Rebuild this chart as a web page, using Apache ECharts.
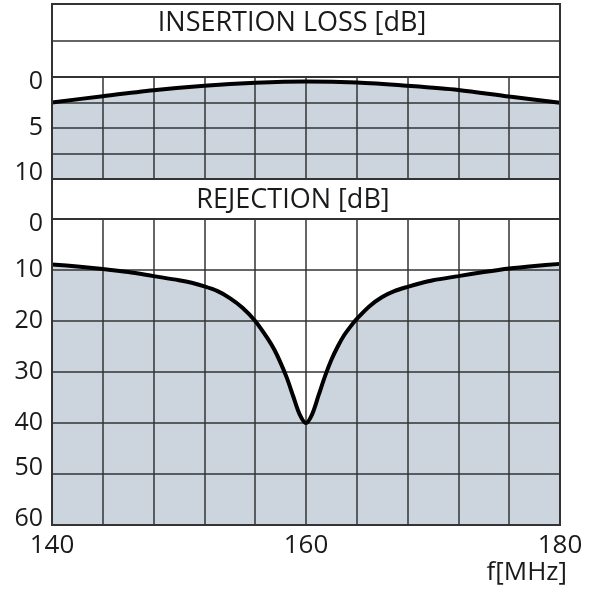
<!DOCTYPE html>
<html>
<head>
<meta charset="utf-8">
<script src="https://cdn.jsdelivr.net/npm/echarts@6/dist/echarts.min.js"></script>
<style>
  html, body { margin: 0; padding: 0; background: #fff; }
  #chart { width: 600px; height: 589px; }
</style>
</head>
<body>
<div id="chart"></div>
<script>
// frequency axis
const freqMin = 140;
const freqMax = 180;
const freqLabels = [140, 160, 180];

// insertion loss [dB]
const ilFreq = [140, 144, 148, 152, 156, 160, 164, 168, 172, 176, 180];
const ilLoss = [2.5, 1.88, 1.3, 0.86, 0.57, 0.44, 0.54, 0.86, 1.27, 1.92, 2.52];
const ilTicks = [0, 5, 10];

// rejection [dB]
const rejFreq = [140, 142, 144, 146, 148, 150, 151, 152, 153, 154, 155, 156, 157, 157.5, 158, 158.5, 159, 159.5,
    160, 160.5, 161, 161.5, 162, 162.5, 163, 163.5, 164, 165, 166, 167, 168, 169, 170, 172, 174, 176, 178, 180];
const rejLoss = [8.9, 9.3, 9.8, 10.4, 11.2, 12.0, 12.5, 13.2, 14.1, 15.5, 17.4, 20.0, 23.5, 25.6, 28.2, 31.2, 34.8, 38.3,
    40.0, 38.2, 34.5, 30.8, 27.6, 25.0, 22.8, 21.1, 19.6, 17.1, 15.3, 14.1, 13.3, 12.6, 12.0, 11.2, 10.4, 9.7, 9.2, 8.8];
const rejTicks = [0, 10, 20, 30, 40, 50, 60];

const FONT = '"Open Sans", sans-serif';
const INK = '#1a1a1a';
const GRIDC = '#333';
const FILL = '#ccd5de';

// frame geometry
const L = 52, R = 560, T = 4;
const IL_TOP = 77, IL_BOT = 179;
const REJ_TOP = 219, REJ_BOT = 525;

const chart = echarts.init(document.getElementById('chart'));

function xAxisFor(gridIndex, showLabels) {
    return {
        type: 'value', gridIndex, min: freqMin, max: freqMax, interval: 4,
        axisLine: { show: false }, axisTick: { show: false },
        splitLine: { show: true, lineStyle: { color: GRIDC, width: 1.5 } },
        axisLabel: {
            show: showLabels, margin: 8, fontFamily: FONT, fontSize: 26, color: INK,
            formatter: v => freqLabels.includes(v) ? String(v) : ''
        }
    };
}

function yAxisFor(gridIndex, max, interval, ticks, shift) {
    return {
        type: 'value', gridIndex, inverse: true, min: 0, max, interval,
        axisLine: { show: false }, axisTick: { show: false },
        splitLine: { show: true, lineStyle: { color: GRIDC, width: 1.5 } },
        axisLabel: {
            margin: 9, fontFamily: FONT, fontSize: 25, color: INK,
            formatter: v => {
                if (!ticks.includes(v)) return '';
                const s = shift[v];
                if (s > 0) return '{dn|' + v + '}';
                if (s < 0) return '{up|' + v + '}';
                return String(v);
            },
            rich: {
                dn: { fontFamily: FONT, fontSize: 25, color: INK, padding: [10, 0, 0, 0] },
                up: { fontFamily: FONT, fontSize: 25, color: INK, padding: [0, 0, 12, 0] }
            }
        }
    };
}

// filled area sits under the grid lines, the curve on top of them
function area(idx, xs, ys) {
    return {
        type: 'line', xAxisIndex: idx, yAxisIndex: idx,
        data: xs.map((f, i) => [f, ys[i]]),
        smooth: 0.3, symbol: 'none', silent: true,
        lineStyle: { width: 0 },
        areaStyle: { color: FILL, opacity: 1, origin: 'end' },
        z: -1
    };
}

function curve(idx, xs, ys) {
    return {
        type: 'line', xAxisIndex: idx, yAxisIndex: idx,
        data: xs.map((f, i) => [f, ys[i]]),
        smooth: 0.3, symbol: 'none',
        lineStyle: { color: '#000', width: 4 },
        z: 5
    };
}

const hLine = (y, w) => ({ type: 'line', shape: { x1: L, y1: y, x2: R, y2: y }, style: { stroke: GRIDC, lineWidth: w }, z: 100 });

chart.setOption({
    animation: false,
    grid: [
        { left: L, top: IL_TOP, width: R - L, height: IL_BOT - IL_TOP },
        { left: L, top: REJ_TOP, width: R - L, height: REJ_BOT - REJ_TOP }
    ],
    xAxis: [xAxisFor(0, false), xAxisFor(1, true)],
    yAxis: [
        yAxisFor(0, 10, 2.5, ilTicks, { 0: 1, 10: -1 }),
        yAxisFor(1, 60, 10, rejTicks, { 0: 1, 50: -1, 60: -1 })
    ],
    series: [
        area(0, ilFreq, ilLoss), curve(0, ilFreq, ilLoss),
        area(1, rejFreq, rejLoss), curve(1, rejFreq, rejLoss)
    ],
    graphic: [
        { type: 'rect', shape: { x: L, y: T, width: R - L, height: REJ_BOT - T }, style: { fill: 'none', stroke: '#333', lineWidth: 2 }, z: 100 },
        hLine(41, 1.5), hLine(IL_TOP, 2), hLine(IL_BOT, 2), hLine(REJ_TOP, 2),
        { type: 'text', x: 292, y: 23, style: { text: 'INSERTION LOSS [dB]', font: '27px ' + FONT, fill: INK, align: 'center', verticalAlign: 'middle' } },
        { type: 'text', x: 293, y: 200, style: { text: 'REJECTION [dB]', font: '27px ' + FONT, fill: INK, align: 'center', verticalAlign: 'middle' } },
        { type: 'text', x: 567, y: 573, style: { text: 'f[MHz]', font: '26px ' + FONT, fill: INK, align: 'right', verticalAlign: 'middle' } }
    ]
});
</script>
</body>
</html>
